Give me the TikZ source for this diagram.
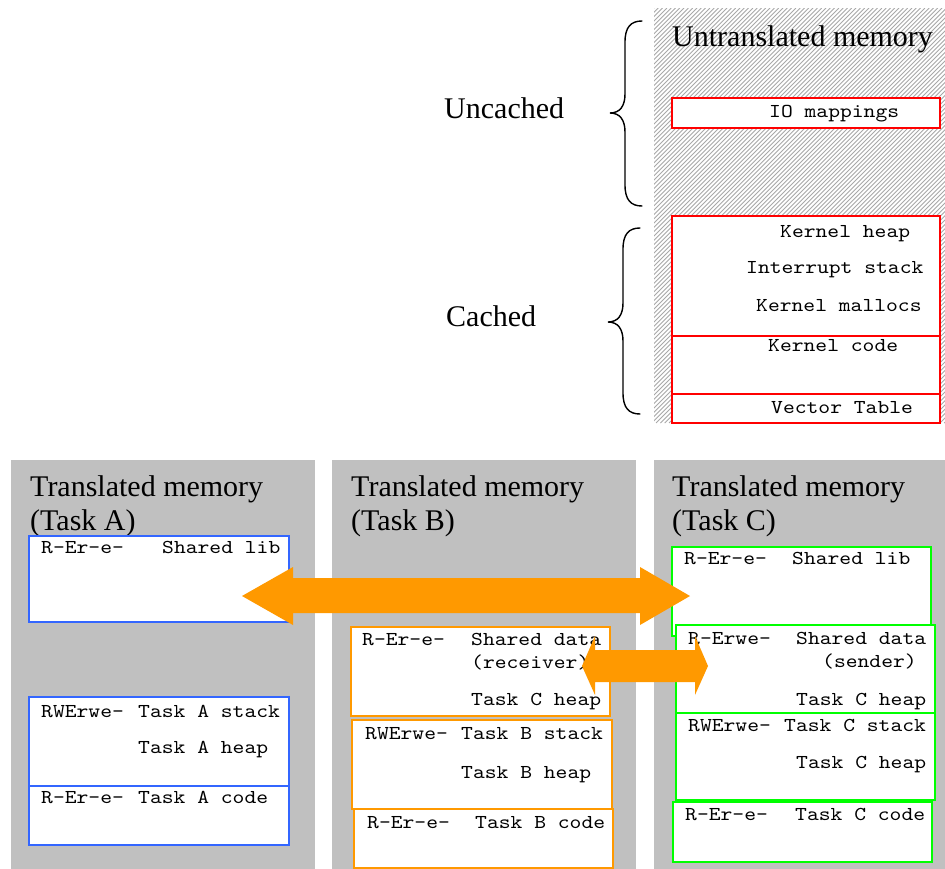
\documentclass[tikz,border=0pt]{standalone}
\usepackage{fontspec}
\setmainfont{Liberation Serif}
\setmonofont[FakeStretch=1.143]{lmmono10-regular.otf}
\usetikzlibrary{fit}
\definecolor{panelgray}{HTML}{C0C0C0}
\definecolor{hatchgray}{HTML}{A8A8A8}
\definecolor{kred}{HTML}{FF0000}
\definecolor{tblue}{HTML}{3366FF}
\definecolor{torange}{HTML}{FF9900}
\definecolor{tgreen}{HTML}{00FF00}
\tikzset{
  panel/.style={fill=panelgray, draw=none, inner sep=0pt},
  region/.style={draw=#1, line width=1.5pt, fill=white, inner sep=0pt},
  mono/.style={font=\fontsize{16.8}{18}\ttfamily, inner sep=0pt, anchor=base west},
  serif/.style={font=\fontsize{25.6}{28}\selectfont, inner sep=0pt, anchor=base west},
  fatarrow/.style={fill=torange, draw=none},
  bracket/.style={line width=1.2pt, line cap=round}
}
\begin{document}
\begin{tikzpicture}[x=0.03cm, y=-0.03cm]
\useasboundingbox (0,0) rectangle (945,869);

% untranslated address space, hatched
\node[inner sep=0pt, fit={(654,8) (945,423)}] (untrans) {};
\begin{scope}
  \clip (654,8) rectangle (945,423);
  \fill[white] (654,8) rectangle (945,423);
  \foreach \i in {0,...,170} {
    \draw[hatchgray, line width=0.75pt] ({239+\i*4.3},423) -- ({654+\i*4.3},8);
  }
\end{scope}

% kernel regions
\node[region=kred, fit={(672,98) (940,128)}] (io) {};
\node[region=kred, fit={(672,216) (940,336)}] (kheap) {};
\node[region=kred, fit={(672,336) (940,394)}] (kcode) {};
\node[region=kred, fit={(672,394) (940,423)}] (vec) {};

\node[serif] (untranslbl) at (672,46) {Untranslated memory};
\node[mono] (iolbl) at (769,117) {IO mappings};
\node[mono] (kheaplbl) at (780,237) {Kernel heap};
\node[mono] (irqlbl) at (746,273) {Interrupt stack};
\node[mono] (kmalloclbl) at (756,311) {Kernel mallocs};
\node[mono] (kcodelbl) at (768,351) {Kernel code};
\node[mono] (veclbl) at (771,413) {Vector Table};

% braces
\draw[bracket] (642,21) .. controls (631,21) and (625,27) .. (625,42)
  -- (625,94) .. controls (625,106) and (620,113) .. (610,113)
  .. controls (620,113) and (625,120) .. (625,132)
  -- (625,185) .. controls (625,200) and (631,206) .. (642,206);
\draw[bracket] (640,228) .. controls (629,228) and (623,234) .. (623,249)
  -- (623,303) .. controls (623,315) and (618,322) .. (608,322)
  .. controls (618,322) and (623,329) .. (623,341)
  -- (623,393) .. controls (623,408) and (629,414) .. (640,414);
\node[serif] (uncached) at (444,118) {Uncached};
\node[serif] (cached) at (446,326) {Cached};

% translated address spaces
\node[panel, fit={(11,460) (315,869)}] (panelA) {};
\node[panel, fit={(332,460) (636,869)}] (panelB) {};
\node[panel, fit={(654,460) (945,869)}] (panelC) {};

\node[serif] (titleA1) at (30,496) {Translated memory};
\node[serif] (titleA2) at (30,530) {(Task A)};
\node[serif] (titleB1) at (351,496) {Translated memory};
\node[serif] (titleB2) at (351,530) {(Task B)};
\node[serif] (titleC1) at (672,496) {Translated memory};
\node[serif] (titleC2) at (672,530) {(Task C)};

% task A
\node[region=tblue, fit={(29,536) (289,622)}] (alib) {};
\node[region=tblue, fit={(29,697) (289,786)}] (astack) {};
\node[region=tblue, fit={(29,786) (289,845)}] (acode) {};
\node[mono] (alibp) at (41,553) {R-Er-e-};
\node[mono] (alibl) at (162,553) {Shared lib};
\node[mono] (astackp) at (41,717) {RWErwe-};
\node[mono] (astackl) at (138,717) {Task A stack};
\node[mono] (aheapl) at (138,753) {Task A heap};
\node[mono] (acodep) at (41,803) {R-Er-e-};
\node[mono] (acodel) at (138,803) {Task A code};

% task B
\node[region=torange, fit={(351,627) (610,716)}] (bdata) {};
\node[region=torange, fit={(352,720) (612,809)}] (bstack) {};
\node[region=torange, fit={(354,809) (613,868)}] (bcode) {};
\node[mono] (bdatap) at (362,645) {R-Er-e-};
\node[mono] (bdatal) at (471,645) {Shared data};
\node[mono] (brecv) at (471,668) {(receiver)};
\node[mono] (bcheap) at (471,705) {Task C heap};
\node[mono] (bstackp) at (365,739) {RWErwe-};
\node[mono] (bstackl) at (461,739) {Task B stack};
\node[mono] (bheapl) at (461,778) {Task B heap};
\node[mono] (bcodep) at (367,828) {R-Er-e-};
\node[mono] (bcodel) at (475,828) {Task B code};

% task C
\node[region=tgreen, fit={(672,547) (931,636)}] (clib) {};
\node[region=tgreen, fit={(676,625) (935,713)}] (cdata) {};
\node[region=tgreen, fit={(676,713) (935,800)}] (cstack) {};
\node[region=tgreen, fit={(673,802) (932,862)}] (ccode) {};
\node[mono] (clibp) at (684,564) {R-Er-e-};
\node[mono] (clibl) at (792,564) {Shared lib};
\node[mono] (cdatap) at (688,644) {R-Erwe-};
\node[mono] (cdatal) at (796,644) {Shared data};
\node[mono] (csend) at (822,667) {(sender)};
\node[mono] (ccheap1) at (796,705) {Task C heap};
\node[mono] (cstackp) at (688,731) {RWErwe-};
\node[mono] (cstackl) at (784,731) {Task C stack};
\node[mono] (cheapl) at (796,768) {Task C heap};
\node[mono] (ccodep) at (685,820) {R-Er-e-};
\node[mono] (ccodel) at (795,820) {Task C code};

% sharing arrows
\fill[fatarrow] (242,596) -- (293,567) -- (293,578) -- (640,578) -- (640,567)
  -- (690,596) -- (640,625) -- (640,613) -- (293,613) -- (293,625) -- cycle;
\fill[fatarrow] (582,666) -- (595,636) -- (595,650) -- (695,650) -- (695,636)
  -- (708,666) -- (695,695) -- (695,682) -- (595,682) -- (595,695) -- cycle;
\end{tikzpicture}
\end{document}
